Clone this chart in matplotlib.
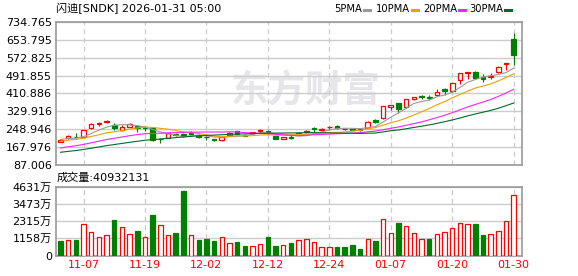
import numpy as np
import pandas as pd
import matplotlib
matplotlib.use('Agg')
import matplotlib.pyplot as plt
from matplotlib.lines import Line2D
from matplotlib.patches import Rectangle

plt.rcParams['font.family'] = ['DejaVu Sans', 'Noto Sans CJK SC']

# trading days shown in the window
dates = ['11-04', '11-05', '11-06', '11-07', '11-10', '11-11', '11-12', '11-13', '11-14', '11-17',
         '11-18', '11-19', '11-20', '11-21', '11-24', '11-25', '11-26', '11-28', '12-01', '12-02',
         '12-03', '12-04', '12-05', '12-08', '12-09', '12-10', '12-11', '12-12', '12-15', '12-16',
         '12-17', '12-18', '12-19', '12-22', '12-23', '12-24', '12-26', '12-29', '12-30', '12-31',
         '01-02', '01-05', '01-06', '01-07', '01-08', '01-09', '01-12', '01-13', '01-14', '01-15',
         '01-16', '01-20', '01-21', '01-22', '01-23', '01-26', '01-27', '01-28', '01-29', '01-30']

opens = [193, 208, 216, 215, 254, 272, 281, 268, 245, 261,
         264, 259, 253, 206, 211, 229, 229, 230, 222, 216,
         203, 199, 223, 241, 225, 230, 240, 240, 220, 207,
         214, 234, 236, 256, 244, 258, 264, 248, 249, 250,
         256, 293, 299, 349, 367, 348, 385, 399, 395, 406,
         431, 420, 472, 506, 510, 485, 485, 507, 545, 658]
highs = [201, 221, 232, 247, 275, 283, 290, 277, 268, 279,
         266, 262, 257, 211, 233, 233, 232, 240, 226, 220,
         206, 217, 236, 243, 228, 237, 251, 246, 222, 215,
         226, 238, 247, 257, 253, 262, 268, 256, 251, 253,
         285, 295, 355, 359, 369, 386, 396, 403, 404, 430,
         437, 459, 505, 510, 512, 501, 504, 534, 550, 686]
lows = [190, 205, 210, 213, 252, 262, 275, 244, 243, 258,
        235, 240, 196, 188, 209, 218, 214, 222, 210, 199,
        195, 196, 221, 222, 217, 229, 234, 228, 203, 206,
        204, 221, 230, 233, 240, 244, 252, 246, 245, 241,
        254, 276, 296, 337, 322, 345, 382, 385, 380, 404,
        404, 417, 452, 475, 477, 463, 475, 505, 516, 539]
closes = [198, 219, 212, 245, 273, 276, 286, 254, 260, 271,
          254, 256, 199, 203, 231, 222, 218, 226, 214, 212,
          199, 215, 234, 226, 220, 235, 246, 236, 205, 213,
          210, 229, 240, 250, 251, 261, 255, 251, 247, 244,
          283, 282, 353, 357, 341, 384, 394, 396, 391, 417,
          423, 457, 503, 509, 480, 476, 489, 532, 549, 584]
# volume in 万 shares
volumes = [967, 1035, 1058, 2092, 1553, 1215, 1350, 2385, 1935, 1418,
           1643, 1215, 2723, 2025, 1350, 1508, 4343, 1350, 1035, 1103,
           967, 1215, 810, 878, 630, 608, 743, 1238, 630, 698,
           833, 1035, 1103, 878, 540, 540, 563, 563, 698, 450,
           1103, 967, 2430, 1485, 2183, 1958, 1485, 1103, 1103, 1418,
           1553, 1823, 2160, 2093, 2115, 1373, 1418, 1643, 2318, 4093]
last_volume = 40932131
# closes before 11-04, only feed the moving averages
prev_closes = [95, 98, 100, 102, 104, 106, 108, 110, 114, 118,
               112, 118, 122, 128, 130, 135, 140, 145, 150, 155,
               170, 180, 188, 195, 202, 195, 205, 212, 202]

price_ticks = [87.006, 167.976, 248.946, 329.916, 410.886, 491.855, 572.825, 653.795, 734.765]
price_labels = ['87.006', '167.976', '248.946', '329.916', '410.886', '491.855', '572.825', '653.795', '734.765']
vol_ticks = [0, 1158, 2315, 3473, 4631]
vol_labels = ['0', '1158万', '2315万', '3473万', '4631万']
ma_names = ['5PMA', '10PMA', '20PMA', '30PMA']
ma_periods = [5, 10, 20, 30]
ma_colors = ['#9a9a9a', '#f0a000', '#ff20ff', '#006a2c']

RED = '#ff0000'
GREEN = '#008000'
W, H = 578, 276

x = np.arange(len(dates))
allc = pd.Series(prev_closes + closes, dtype=float)
n0 = len(prev_closes)
mas = [allc.rolling(p).mean().iloc[n0:].values for p in ma_periods]
prevc = [prev_closes[-1]] + closes[:-1]

fig = plt.figure(figsize=(W / 100, H / 100), dpi=100)
ax = fig.add_axes([56 / W, 1 - 165 / H, 466 / W, 143 / H])
axv = fig.add_axes([56 / W, 1 - 255.5 / H, 466 / W, 68.8 / H])

xl = (-0.58, len(dates) + 0.08)
tick_idx = list(range(3, len(dates), 8))

for a in (ax, axv):
    a.set_xlim(*xl)
    a.set_axisbelow(True)
    a.grid(True, axis='y', color='#cccccc', lw=1, ls='-')
    for t in tick_idx:
        a.axvline(t, color='#cccccc', lw=0.9, ls=(0, (4, 3)), zorder=0.5)
    for s in a.spines.values():
        s.set_color('#999999')
        s.set_linewidth(1.2)
    a.tick_params(length=0, labelsize=8, pad=3)

# watermark
ax.text(306 / W, 1 - 91 / H, '东方财富', transform=fig.transFigure, fontsize=27,
        fontweight='bold', color='#e6e6ea', ha='center', va='center', zorder=0.2,
        family=['Noto Sans CJK SC'])

# candles
bw = 0.6
for i in x:
    o, h, l, c = opens[i], highs[i], lows[i], closes[i]
    up = c >= o
    col = RED if up else GREEN
    ax.vlines(i, l, h, color=col, lw=0.8, zorder=2)
    lo, hi = min(o, c), max(o, c)
    ax.add_patch(Rectangle((i - bw / 2, lo), bw, max(hi - lo, 0.5),
                           facecolor='white' if up else GREEN, edgecolor=col,
                           lw=0.9, zorder=3))

for m, col in zip(mas, ma_colors):
    ax.plot(x, m, color=col, lw=0.8, zorder=4)

ax.set_ylim(price_ticks[0], price_ticks[-1])
ax.set_yticks(price_ticks)
ax.set_yticklabels(price_labels)
ax.set_xticks([])

# volume, coloured by close vs previous close
for i in x:
    up = closes[i] >= prevc[i]
    col = RED if up else GREEN
    axv.add_patch(Rectangle((i - 0.29, 0), 0.58, volumes[i],
                            facecolor='white' if up else GREEN, edgecolor=col,
                            lw=0.9, zorder=3))
axv.set_ylim(vol_ticks[0], vol_ticks[-1])
axv.set_yticks(vol_ticks)
axv.set_yticklabels(vol_labels)
axv.set_xticks(tick_idx)
axv.set_xticklabels([dates[i] for i in tick_idx], color=RED)

# header texts
fig.text(56 / W, 1 - 8.5 / H, '闪迪[SNDK] 2026-01-31 05:00', fontsize=8, va='center', ha='left')
fig.text(57 / W, 1 - 178 / H, '成交量:%d' % last_volume, fontsize=8, va='center', ha='left')

# MA legend: name then a short coloured dash
dash_x = [364, 412, 459, 505]
for name, lx, col in zip(ma_names, dash_x, ma_colors):
    fig.text((lx - 1.5) / W, 1 - 8.5 / H, name, fontsize=7.2, va='center', ha='right')
    fig.add_artist(Line2D([lx / W, (lx + 6) / W], [1 - 9.5 / H] * 2, color=col, lw=2.2))

fig.savefig('out.png', dpi=100)
